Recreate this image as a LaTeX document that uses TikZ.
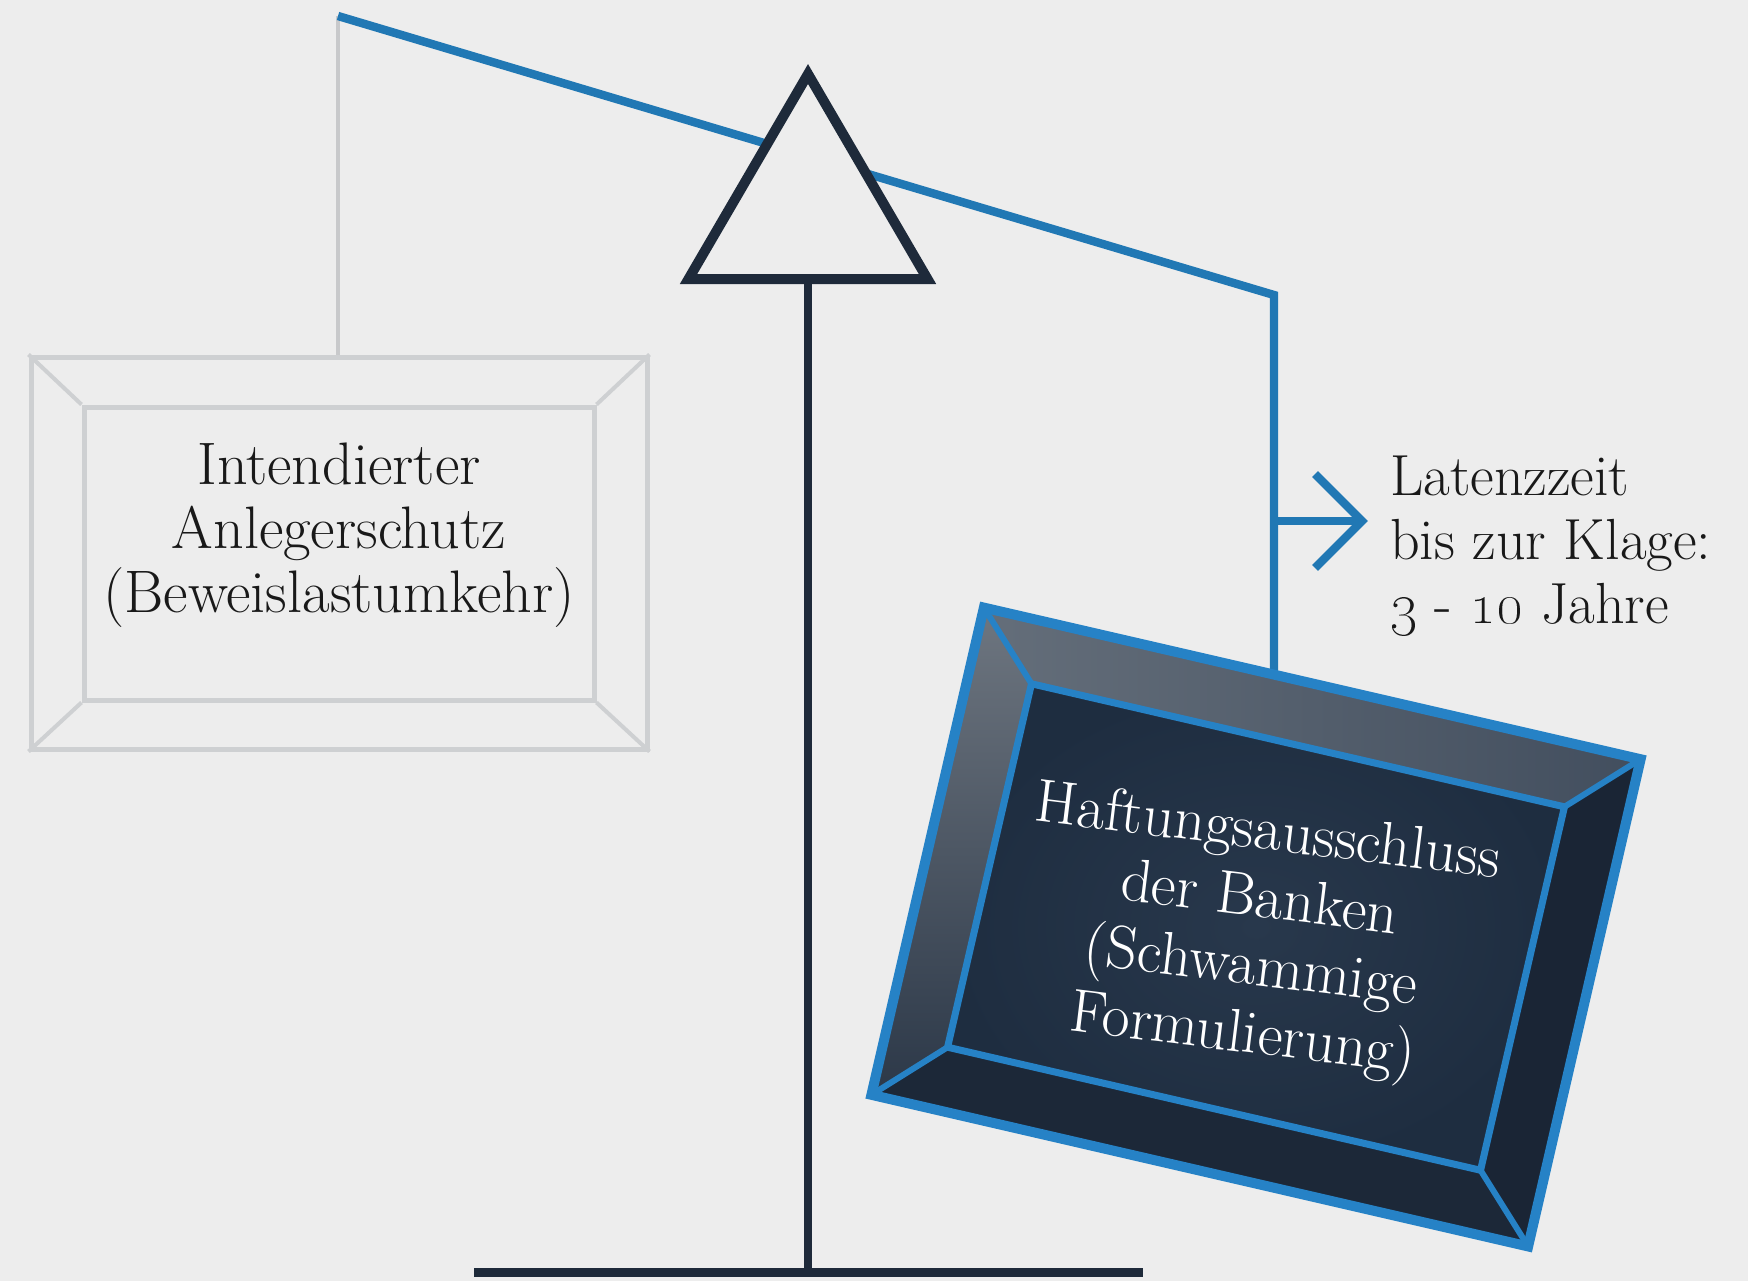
\documentclass[tikz,border=0pt]{standalone}
\usetikzlibrary{calc}
\definecolor{bg}{RGB}{237,237,237}
\definecolor{beamblue}{RGB}{33,120,180}
\definecolor{frameblue}{RGB}{38,130,198}
\definecolor{navy}{RGB}{30,42,58}
\definecolor{boxgray}{RGB}{206,208,210}
\definecolor{hanggray}{RGB}{200,201,203}
\definecolor{facedark}{RGB}{30,45,64}
\definecolor{facemid}{RGB}{40,56,76}
\definecolor{topA}{RGB}{100,110,122}
\definecolor{topB}{RGB}{66,78,94}
\definecolor{leftA}{RGB}{110,118,128}
\definecolor{leftB}{RGB}{44,56,72}
\definecolor{botface}{RGB}{28,40,56}
\definecolor{rightface}{RGB}{26,37,53}
\tikzset{
  beam/.style={draw=beamblue, line width=4.2pt, line join=miter},
  hang/.style={draw=hanggray, line width=1.6pt},
  lframe/.style={draw=boxgray, line width=2.5pt, fill=none, inner sep=0pt},
  ldiag/.style={draw=boxgray, line width=2pt},
  rframe/.style={draw=frameblue, line width=5pt, inner sep=0pt, rotate=-13},
  rinner/.style={draw=frameblue, line width=3.5pt, inner sep=0pt, rotate=-13},
  rdiag/.style={draw=frameblue, line width=3pt},
  stand/.style={draw=navy, line width=4pt},
  pivot/.style={draw=navy, line width=5pt, fill=bg, line join=miter},
  ltxt/.style={text=black!90, align=center, font=\fontsize{30}{32}\selectfont},
  rtxt/.style={text=white, align=center, rotate=-7, font=\fontsize{30.5}{34}\selectfont},
  latxt/.style={text=black!90, align=left, anchor=west, font=\fontsize{29}{32}\selectfont}
}
\begin{document}
\begin{tikzpicture}[x=0.5pt,y=-0.5pt]
\fill[bg] (0,0) rectangle (1748,1281);
\useasboundingbox (0,0) rectangle (1748,1281);

% left pan (light)
\node[lframe, minimum width=308pt, minimum height=196pt] (lbox) at (339,553) {};
\node[lframe, minimum width=255pt, minimum height=146.5pt] (lin) at (339,553.5) {};
\draw[ldiag] (lbox.north west) -- (lin.north west);
\draw[ldiag] (lbox.north east) -- (lin.north east);
\draw[ldiag] (lbox.south west) -- (lin.south west);
\draw[ldiag] (lbox.south east) -- (lin.south east);
\coordinate (beamL) at (338,16);
\draw[hang] (beamL) -- (beamL |- lbox.north);
\node[ltxt] (ltext) at (339,535) {Intendierter\\Anlegerschutz\\(Beweislastumkehr)};

% right pan node geometry
\node[rframe, draw=none, minimum width=332pt, minimum height=245pt] (rbox) at (1256,927) {};
\node[rinner, draw=none, minimum width=270pt, minimum height=183pt] (rin) at (1256,927) {};
\coordinate (hook) at ($(rbox.north west)!0.442!(rbox.north east)$);
\coordinate (beamR) at (1274,295);

% beam
\draw[beam] (beamL) -- (beamR) -- (beamR |- hook);

% latency arrow
\coordinate (arrS) at (1274,521);
\coordinate (arrT) at (1362,521);
\draw[beam] (arrS) -- (arrT);
\draw[beam] ($(arrT)+(-47,-47)$) -- (arrT) -- ($(arrT)+(-47,47)$);
\node[latxt] (lat) at (1383,545) {Latenzzeit\\bis zur Klage:\\\oldstylenums{3} - \oldstylenums{10} Jahre};

% stand
\coordinate (apex) at (808,74);
\coordinate (bl) at (688.5,279);
\coordinate (br) at (927.5,279);
\coordinate (stemB) at (808,1272);
\draw[stand] (bl) -- (br);
\draw[stand] ($(bl)!0.5!(br)$) -- (stemB);
\coordinate (baseL) at (474,1272);
\coordinate (baseR) at (1143,1272);
\draw[navy, line width=4.5pt] (baseL) -- (baseR);
\draw[pivot] (apex) -- (br) -- (bl) -- cycle;

% right pan faces
\fill[facedark] (rin.north west) -- (rin.north east) -- (rin.south east) -- (rin.south west) -- cycle;
\shade[inner color=facemid, outer color=facedark] (rin.north west) -- (rin.north east) -- (rin.south east) -- (rin.south west) -- cycle;
\shade[left color=topA, right color=topB] (rbox.north west) -- (rbox.north east) -- (rin.north east) -- (rin.north west) -- cycle;
\shade[top color=leftA, bottom color=leftB] (rbox.north west) -- (rin.north west) -- (rin.south west) -- (rbox.south west) -- cycle;
\fill[botface] (rbox.south west) -- (rin.south west) -- (rin.south east) -- (rbox.south east) -- cycle;
\fill[rightface] (rbox.north east) -- (rin.north east) -- (rin.south east) -- (rbox.south east) -- cycle;
\draw[rdiag] (rbox.north west) -- (rin.north west);
\draw[rdiag] (rbox.north east) -- (rin.north east);
\draw[rdiag] (rbox.south west) -- (rin.south west);
\draw[rdiag] (rbox.south east) -- (rin.south east);
\draw[draw=frameblue, line width=3.5pt, line join=miter] (rin.north west) -- (rin.north east) -- (rin.south east) -- (rin.south west) -- cycle;
\draw[draw=frameblue, line width=5pt, line join=miter] (rbox.north west) -- (rbox.north east) -- (rbox.south east) -- (rbox.south west) -- cycle;
\node[rtxt] (rtext) at (1255,937) {Haftungsausschluss\\der Banken\\(Schwammige\\Formulierung)};
\end{tikzpicture}
\end{document}
